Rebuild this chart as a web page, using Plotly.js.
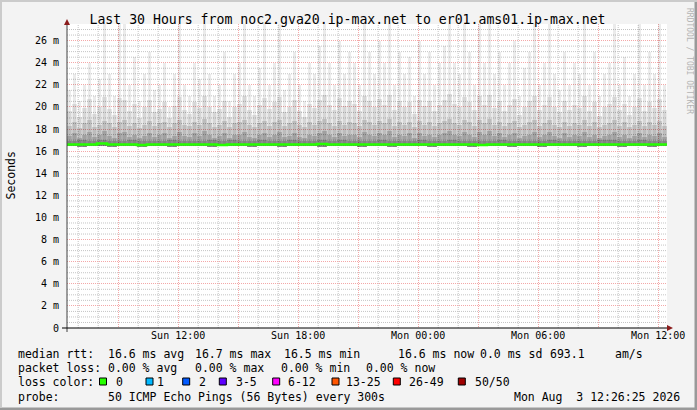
<!DOCTYPE html>
<html>
<head>
<meta charset="utf-8">
<script src="https://cdn.plot.ly/plotly-3.0.1.min.js"></script>
<style>html,body{margin:0;padding:0;background:#f3f3f3;}#chart{width:697px;height:410px;}</style>
</head>
<body>
<div id="chart"></div>
<script>
// ---------------- data ----------------
const titleText = "Last 30 Hours from noc2.gva20.ip-max.net to er01.ams01.ip-max.net";
const startTime = "2026-08-02 06:26:25";
const endTime = "2026-08-03 12:26:25";
const fineStepMin = 15;   // one value per 15 minutes
const coarseStepMin = 30; // one value per 30 minutes

// highest ping per 15 min (ms)
const smokeMax = [21.5,23,20.5,22,24,21,22.5,27.5,23,21,27.5,27.5,22,24.5,20.5,23,25,21.5,22,24,
  20,23,27.5,22,21,24,22.5,27.5,23,21,22,25,20.5,23,24,27.5,22,21,23.5,27.5,
  22,24,27.5,21.5,23,25,22,20.5,24,23,25.5,27.5,24,22,26,23,25,24,22,27.5,
  25,23,26,24,27.5,22,25,23,24.5,21,26,23,25,22,24,25.5,27.5,24,23,27.5,
  25,22,27.5,24,27.5,23,25,22,24,26,21,23.5,25,27.5,22,24,27.5,23,21.5,25,
  22,24,23,27.5,22,25,21,23,24,27.5,22,24.5,21,23,27.5,22,25,23,27.5,22];
// upper part of the smoke, per 15 min
const smokeHigh = [19.6,20.3,19.1,19.9,20.7,19.4,20.0,20.9,19.8,19.3,20.8,20.6,19.6,20.3,19.0,20.0,20.6,19.5,19.8,20.4,
  19.0,20.1,20.9,19.7,19.4,20.4,19.9,21.0,20.0,19.5,19.8,20.5,19.1,20.0,20.3,21.0,19.7,19.3,20.2,20.8,
  19.8,20.4,20.9,19.5,20.0,20.6,19.6,19.1,20.3,19.9,20.6,21.1,20.2,19.7,20.8,20.1,20.5,20.3,19.6,21.0,
  20.5,20.0,20.7,20.2,21.1,19.7,20.5,20.0,20.4,19.4,20.6,20.1,20.5,19.6,20.2,20.6,21.2,20.3,20.0,20.9,
  20.4,19.7,21.0,20.2,21.1,19.9,20.5,19.6,20.2,20.7,19.3,20.0,20.5,21.0,19.7,20.2,20.9,20.0,19.5,20.5,
  19.7,20.2,19.9,21.0,19.6,20.4,19.2,20.0,20.3,20.9,19.7,20.3,19.3,20.0,20.8,19.6,20.4,19.9,20.7,19.7];
// middle smoke band top, per 15 min
const smokeMid = [18.3,18.6,18.1,18.5,18.8,18.2,18.4,18.7,18.5,18.2,18.6,18.8,18.3,18.5,18.1,18.4,18.7,18.3,18.5,18.6,
  18.2,18.5,18.8,18.4,18.3,18.6,18.4,18.9,18.5,18.2,18.4,18.7,18.2,18.5,18.6,18.8,18.4,18.2,18.5,18.7,
  18.3,18.6,18.8,18.3,18.5,18.7,18.4,18.2,18.6,18.4,18.7,18.9,18.5,18.3,18.7,18.4,18.6,18.5,18.3,18.8,
  18.6,18.4,18.7,18.5,18.9,18.3,18.6,18.4,18.6,18.2,18.7,18.4,18.6,18.3,18.5,18.7,18.9,18.5,18.4,18.8,
  18.6,18.3,18.8,18.5,18.9,18.4,18.6,18.3,18.5,18.7,18.2,18.4,18.6,18.8,18.3,18.5,18.8,18.4,18.2,18.6,
  18.3,18.5,18.4,18.8,18.3,18.6,18.2,18.4,18.5,18.8,18.3,18.6,18.2,18.4,18.7,18.3,18.6,18.4,18.7,18.3];
// darker smoke core top, per 15 min
const smokeCore = [17.4,17.6,17.2,17.5,17.7,17.3,17.5,17.8,17.4,17.2,17.6,17.7,17.3,17.5,17.2,17.4,17.6,17.3,17.5,17.6,
  17.2,17.4,17.7,17.4,17.3,17.6,17.4,17.8,17.5,17.2,17.4,17.6,17.2,17.5,17.5,17.7,17.3,17.2,17.5,17.6,
  17.3,17.5,17.7,17.3,17.4,17.6,17.3,17.2,17.5,17.4,17.6,17.8,17.5,17.3,17.6,17.4,17.5,17.5,17.3,17.7,
  17.5,17.4,17.6,17.5,17.8,17.3,17.5,17.4,17.6,17.2,17.6,17.4,17.5,17.3,17.5,17.6,17.8,17.5,17.4,17.7,
  17.5,17.3,17.7,17.5,17.8,17.4,17.6,17.3,17.5,17.6,17.2,17.4,17.5,17.7,17.3,17.5,17.7,17.4,17.2,17.6,
  17.3,17.5,17.4,17.7,17.3,17.5,17.2,17.4,17.5,17.7,17.3,17.5,17.2,17.4,17.6,17.3,17.5,17.4,17.6,17.3];
// innermost smoke just above the median, per 30 min
const smokeInner = [16.9,17.0,16.9,17.05,16.95,16.9,17.0,16.9,16.95,16.9,17.0,16.95,16.9,16.9,17.0,16.95,17.05,16.9,16.95,17.0,
  16.95,16.9,17.0,16.95,16.9,17.05,16.95,17.0,16.95,16.9,16.95,17.0,16.9,16.95,16.95,17.05,16.9,16.95,17.0,16.95,
  16.9,16.95,16.9,17.0,16.95,16.95,16.9,16.95,17.0,16.9,16.95,16.95,16.9,17.0,17.0,16.9,16.95,17.0,16.9,16.95];
// lowest ping, per 30 min
const smokeMin = [16.45,16.4,16.45,16.5,16.4,16.45,16.45,16.4,16.5,16.45,16.4,16.45,16.5,16.45,16.4,16.45,16.45,16.5,16.4,16.45,
  16.45,16.4,16.5,16.45,16.45,16.4,16.45,16.5,16.45,16.4,16.45,16.45,16.4,16.5,16.45,16.45,16.4,16.45,16.5,16.45,
  16.4,16.45,16.45,16.5,16.4,16.45,16.45,16.4,16.5,16.45,16.45,16.4,16.45,16.5,16.45,16.4,16.45,16.45,16.4,16.45];
// median rtt, per 30 min
const medianRtt = [16.6,16.6,16.6,16.7,16.6,16.6,16.6,16.55,16.6,16.6,16.6,16.6,16.6,16.6,16.6,16.55,16.6,16.6,16.6,16.6,
  16.6,16.6,16.6,16.6,16.6,16.65,16.6,16.6,16.6,16.6,16.6,16.6,16.6,16.6,16.6,16.6,16.6,16.6,16.6,16.6,
  16.6,16.55,16.6,16.6,16.6,16.6,16.6,16.6,16.6,16.6,16.6,16.6,16.6,16.6,16.6,16.6,16.6,16.6,16.6,16.6];

const yTickVals = [0,2,4,6,8,10,12,14,16,18,20,22,24,26];
const yTickText = ["0","2 m","4 m","6 m","8 m","10 m","12 m","14 m","16 m","18 m","20 m","22 m","24 m","26 m"];
const xTickVals = ["2026-08-02 09:00","2026-08-02 12:00","2026-08-02 15:00","2026-08-02 18:00","2026-08-02 21:00",
  "2026-08-03 00:00","2026-08-03 03:00","2026-08-03 06:00","2026-08-03 09:00","2026-08-03 12:00"];
const xTickText = ["","Sun 12:00","","Sun 18:00","","Mon 00:00","","Mon 06:00","","Mon 12:00"];

const lossLabels = ["0","1","2","3-5","6-12","13-25","26-49","50/50"];
const lossColors = ["#26ff00","#00b8ff","#0059ff","#5e00ff","#ff00ff","#ff5500","#ff0000","#a00000"];

const statLabel1 = "median rtt:";
const statParts1 = ["16.6 ms avg","16.7 ms max","16.5 ms min","16.6 ms now","0.0 ms sd","693.1","am/s"];
const statLabel2 = "packet loss:";
const statParts2 = ["0.00 % avg","0.00 % max","0.00 % min","0.00 % now"];
const statLabel3 = "loss color:";
const statLabel4 = "probe:";
const probeText = "50 ICMP Echo Pings (56 Bytes) every 300s";
const dateText = "Mon Aug  3 12:26:25 2026";
const watermark = "RRDTOOL / TOBI OETIKER";

// ---------------- layout helpers ----------------
const L = 67, R = 667, T = 24, B = 328, W = 697, H = 410;
const fx = px => (px - L) / (R - L);
const fy = py => (B - py) / (B - T);
const FONT = "DejaVu Sans Mono, monospace";

function toMs(s){ const p = s.split(/[- :]/).map(Number); return Date.UTC(p[0],p[1]-1,p[2],p[3]||0,p[4]||0,p[5]||0); }
function fmt(ms){ return new Date(ms).toISOString().slice(0,19).replace('T',' '); }
const t0 = toMs(startTime);
const fineW = fineStepMin*60000, coarseW = coarseStepMin*60000;
const ratio = coarseStepMin/fineStepMin;

const fineX = smokeMax.map((_,i)=>fmt(t0 + (i+0.5)*fineW));
const coarseX = smokeInner.map((_,i)=>fmt(t0 + (i+0.5)*coarseW));
const fineBase = smokeMax.map((_,i)=>smokeMin[Math.min(smokeMin.length-1, Math.floor(i/ratio))]);

function smokeBar(x, tops, bases, width, color){
  return {type:'bar', x:x, base:bases, y:tops.map((v,i)=>v-bases[i]), width:width,
    marker:{color:color, line:{width:0}}, hoverinfo:'skip', showlegend:false};
}

const traces = [
  smokeBar(fineX, smokeMax, fineBase, fineW*0.5, 'rgba(0,0,0,0.08)'),
  smokeBar(fineX, smokeHigh, fineBase, fineW, 'rgba(0,0,0,0.085)'),
  smokeBar(fineX, smokeMid, fineBase, fineW, 'rgba(0,0,0,0.12)'),
  smokeBar(fineX, smokeCore, fineBase, fineW, 'rgba(0,0,0,0.15)'),
  smokeBar(coarseX, smokeInner, smokeMin, coarseW, 'rgba(0,0,0,0.18)'),
];
const medX = medianRtt.map((_,i)=>fmt(t0 + i*coarseW)).concat([endTime]);
const medY = medianRtt.concat([medianRtt[medianRtt.length-1]]);
traces.push({type:'scatter', mode:'lines', x:medX, y:medY, line:{color:lossColors[0], width:2.5, shape:'hv'},
  hoverinfo:'skip', showlegend:false});

// annotations
const ann = [];
function txt(text, px, py, opts){
  ann.push(Object.assign({text:text, x:fx(px), y:fy(py), xref:'paper', yref:'paper', showarrow:false,
    xanchor:'left', yanchor:'middle', borderpad:0, font:{family:FONT, size:11.5, color:'#000'}}, opts||{}));
}
const row1 = 353.5, row2 = 368.3, row3 = 381.5, row4 = 396.7;
txt(statLabel1, 16.7, row1);
const p1x = [107.3,194,283,396.7,479.3,549.3,614.3];
statParts1.forEach((s,i)=>txt(s, p1x[i], row1));
txt(statLabel2, 16.7, row2);
const p2x = [107.3,194,280,365];
statParts2.forEach((s,i)=>txt(s, p2x[i], row2));
txt(statLabel3, 16.7, row3);
const boxX = [99.5,146,182.7,219.3,272.7,332,393.3,458.3];
const labX = [115,156,198.3,235,287.3,345,408.3,474];
lossLabels.forEach((s,i)=>txt(s, labX[i], row3));
txt(statLabel4, 16.7, row4);
txt(probeText, 107.3, row4);
txt(dateText, 513.3, row4);
txt("Seconds", 10.5, 176, {xanchor:'center', textangle:-90, font:{family:FONT, size:11.5, color:'#000'}});
txt(watermark, 690, 61, {xanchor:'center', textangle:90, font:{family:FONT, size:8, color:'#b4b4b4'}});

// shapes
const majorGrid = '#f4a8a8', minorGrid = '#c4c4c4';
const shapes = [];
// minor grid (every 0.5 m and every hour, skipping the major lines)
for (let v = 0.5; v < 27.5; v += 0.5) if (v % 2 !== 0)
  shapes.push({type:'line', layer:'between', xref:'paper', yref:'y', x0:0, x1:1, y0:v, y1:v, line:{color:minorGrid, width:1, dash:'1px,1px'}});
for (let h = 7; h <= 36; h++) if (h % 3 !== 0) {
  const xv = fmt(Date.UTC(2026,7,2,0,0,0) + h*3600000);
  shapes.push({type:'line', layer:'between', xref:'x', yref:'paper', x0:xv, x1:xv, y0:0, y1:1, line:{color:minorGrid, width:1, dash:'1px,1px'}});
}
lossColors.forEach((c,i)=>shapes.push({type:'rect', xref:'paper', yref:'paper', x0:fx(boxX[i]), x1:fx(boxX[i]+7),
  y0:fy(385), y1:fy(378), fillcolor:c, line:{color:'#000', width:1}}));
shapes.push({type:'line', xref:'paper', yref:'paper', x0:fx(67), x1:fx(67), y0:fy(332), y1:fy(22), line:{color:'#404040', width:1}});
shapes.push({type:'line', xref:'paper', yref:'paper', x0:fx(62), x1:fx(668), y0:fy(328), y1:fy(328), line:{color:'#000', width:1.2}});
shapes.push({type:'path', xref:'paper', yref:'paper',
  path:`M ${fx(64)} ${fy(25)} L ${fx(70)} ${fy(25)} L ${fx(67)} ${fy(19)} Z`, fillcolor:'#8b1c1c', line:{width:0}});
shapes.push({type:'path', xref:'paper', yref:'paper',
  path:`M ${fx(667)} ${fy(325)} L ${fx(667)} ${fy(331)} L ${fx(673)} ${fy(328)} Z`, fillcolor:'#8b1c1c', line:{width:0}});
shapes.push({type:'rect', xref:'paper', yref:'paper', x0:fx(0), x1:fx(697), y0:fy(410), y1:fy(407.5), fillcolor:'#999999', line:{width:0}});
shapes.push({type:'rect', xref:'paper', yref:'paper', x0:fx(694.5), x1:fx(697), y0:fy(410), y1:fy(0), fillcolor:'#999999', line:{width:0}});
shapes.push({type:'rect', xref:'paper', yref:'paper', x0:fx(0), x1:fx(697), y0:fy(2), y1:fy(0), fillcolor:'#cbcbcb', line:{width:0}});
shapes.push({type:'rect', xref:'paper', yref:'paper', x0:fx(0), x1:fx(2), y0:fy(407.5), y1:fy(0), fillcolor:'#cbcbcb', line:{width:0}});

const layout = {
  width:W, height:H,
  margin:{l:L, r:W-R, t:T, b:H-B, pad:0},
  paper_bgcolor:'#f3f3f3', plot_bgcolor:'#ffffff',
  barmode:'overlay', bargap:0, showlegend:false, hovermode:false,
  font:{family:FONT, size:10, color:'#000'},
  title:{text:titleText, x:347.5/W, xref:'container', xanchor:'center', y:1-19.3/H, yref:'container', yanchor:'middle',
    font:{family:FONT, size:13.2, color:'#000'}},
  xaxis:{type:'date', range:[startTime, endTime], tickmode:'array', tickvals:xTickVals, ticktext:xTickText,
    showgrid:true, gridcolor:majorGrid, griddash:'1px,1px', gridwidth:1, ticks:'', showline:false, zeroline:false,
    tickfont:{family:FONT, size:10, color:'#000'}},
  yaxis:{range:[0,27.5], tickmode:'array', tickvals:yTickVals, ticktext:yTickText, ticklabelstandoff:7,
    showgrid:true, gridcolor:majorGrid, griddash:'1px,1px', gridwidth:1, ticks:'', showline:false, zeroline:false,
    tickfont:{family:FONT, size:10, color:'#000'}},
  annotations:ann, shapes:shapes
};
Plotly.newPlot('chart', traces, layout, {displayModeBar:false, staticPlot:true});
</script>
</body>
</html>
